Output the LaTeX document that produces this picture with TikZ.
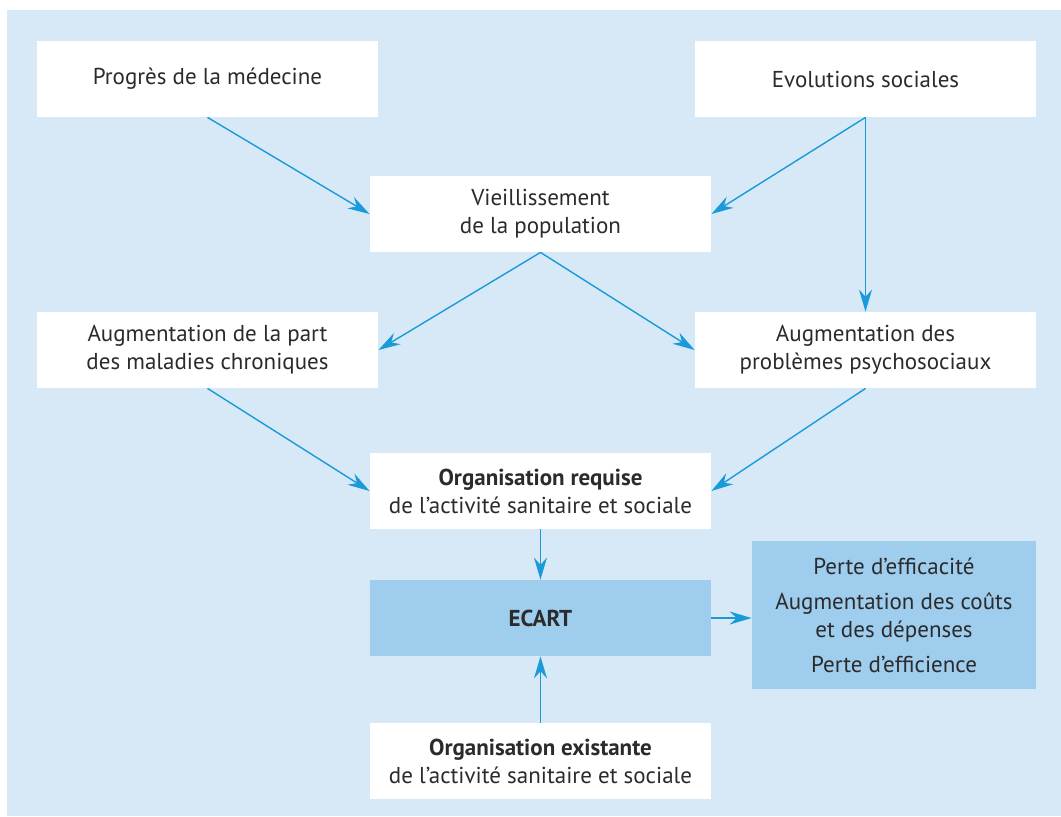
\documentclass[tikz,border=0pt]{standalone}
\usepackage{fontspec}
\setsansfont{PT Sans}
\usetikzlibrary{arrows.meta,positioning}
\definecolor{ecartInk}{HTML}{2B2B2B}
\definecolor{ecartBlue}{HTML}{1A9AD9}
\definecolor{ecartPale}{HTML}{D7E9F7}
\definecolor{ecartFill}{HTML}{9ECDEE}
\tikzset{
  every picture/.style={font=\sffamily\fontsize{11.5}{14}\selectfont, text=ecartInk},
  ecart box/.style={fill=white, align=center, inner sep=0pt,
    minimum width=170.5pt, minimum height=38pt},
  ecart gap/.style={ecart box, fill=ecartFill},
  ecart arrow/.style={-{Stealth[length=11pt,width=6.5pt]},
    draw=ecartBlue, line width=0.7pt}
}

\begin{document}
\begin{tikzpicture}[x=0.5pt, y=-0.5pt]
  \useasboundingbox[fill=white] (0,0) rectangle (1061,816);
  \fill[ecartPale] (7,10) rectangle (1061,816);
  \node[ecart box] (progres) at (207.5,79) {Progrès de la médecine};
  \node[ecart box] (evol) at (865.5,79) {Evolutions sociales};
  \node[ecart box] (vieil) at (540.5,214) {Vieillissement\\de la population};
  \node[ecart box] (chron) at (207.5,350) {Augmentation de la part\\des maladies chroniques};
  \node[ecart box] (psycho) at (865.5,350) {Augmentation des\\problèmes psychosociaux};
  \node[ecart box] (requise) at (540.5,491) {\textbf{Organisation requise}\\de l’activité sanitaire et sociale};
  \node[ecart gap] (ecart) at (540.5,618) {\textbf{ECART}};
  \node[ecart gap, minimum width=142pt, minimum height=74pt] (perte) at (894,615)
    {Perte d’efficacité\\[3.5pt]Augmentation des coûts\\et des dépenses\\[3.5pt]Perte d’efficience};
  \node[ecart box] (existe) at (540.5,761) {\textbf{Organisation existante}\\de l’activité sanitaire et sociale};
  \draw[ecart arrow] (progres.south) -- (vieil.west);
  \draw[ecart arrow] (evol.south) -- (vieil.east);
  \draw[ecart arrow] (evol.south) -- (psycho.north);
  \draw[ecart arrow] (vieil.south) -- (chron.east);
  \draw[ecart arrow] (vieil.south) -- (psycho.west);
  \draw[ecart arrow] (chron.south) -- (requise.west);
  \draw[ecart arrow] (psycho.south) -- (requise.east);
  \draw[ecart arrow] (requise.south) -- (ecart.north);
  \draw[ecart arrow] (ecart.east) -- (ecart.east -| perte.west);
  \draw[ecart arrow] (existe.north) -- (ecart.south);
\end{tikzpicture}
\end{document}
